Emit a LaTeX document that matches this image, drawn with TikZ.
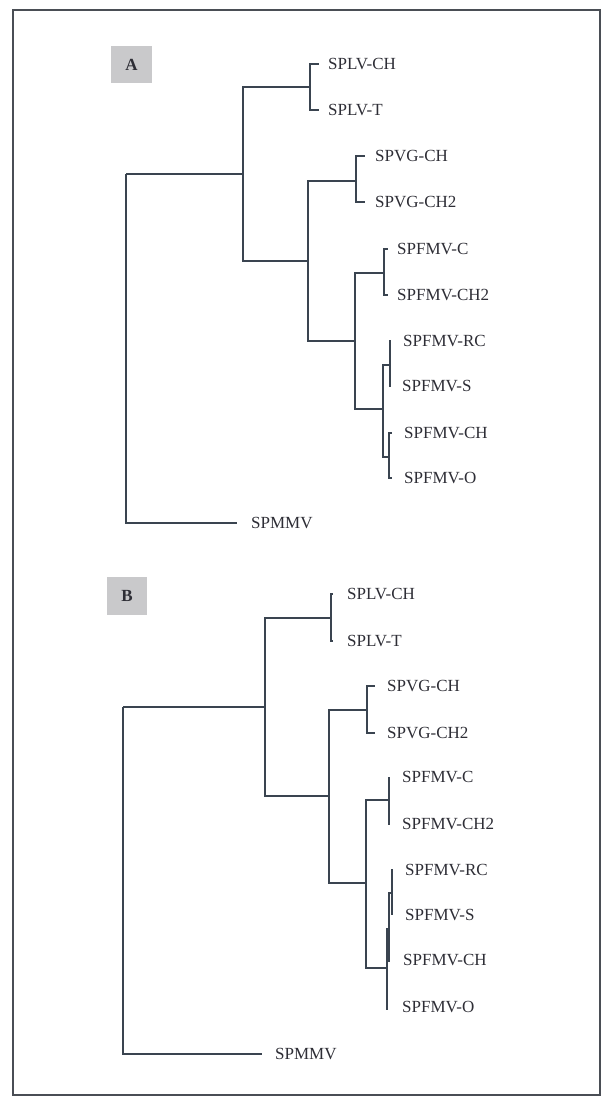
\documentclass[tikz,border=0pt]{standalone}
\usepackage{fontspec}
\setmainfont{Liberation Serif}
\begin{document}
\begin{tikzpicture}[x=1pt,y=-1pt,
  branch/.style={draw=treecol,line width=1.3pt},
  leaf/.style={anchor=west,inner sep=0pt,text=textcol,font=\fontsize{17}{18}\selectfont},
  panel/.style={fill=boxcol,draw=none,inner sep=0pt,font=\fontsize{17}{18}\selectfont\bfseries,text=textcol},
  frame/.style={draw=framecol,line width=1.6pt}]
\definecolor{treecol}{HTML}{3A4450}
\definecolor{textcol}{HTML}{2E2E36}
\definecolor{boxcol}{HTML}{C9C9CB}
\definecolor{framecol}{HTML}{4A4E55}
\path[use as bounding box] (0,0) rectangle (603,1097);
\fill[white] (0,0) rectangle (603,1097);
\draw[frame] (13,10) rectangle (600,1095);

% ---------------- Panel A ----------------
\node[panel,minimum width=41pt,minimum height=37pt] (boxA) at (131.5,64.5) {A};

\coordinate (ta1) at (319,64);  \coordinate (ta2) at (319,110);
\coordinate (ta3) at (365,156); \coordinate (ta4) at (365,202);
\coordinate (ta5) at (388,249); \coordinate (ta6) at (388,295);
\coordinate (ta7) at (391,341); \coordinate (ta8) at (391,386);
\coordinate (ta9) at (392,433); \coordinate (ta10) at (392,478);
\coordinate (ta11) at (237,523);

\node[leaf] (la1) at (328,64) {SPLV-CH};
\node[leaf] (la2) at (328,110) {SPLV-T};
\node[leaf] (la3) at (375,156) {SPVG-CH};
\node[leaf] (la4) at (375,202) {SPVG-CH2};
\node[leaf] (la5) at (397,249) {SPFMV-C};
\node[leaf] (la6) at (397,295) {SPFMV-CH2};
\node[leaf] (la7) at (403,341) {SPFMV-RC};
\node[leaf] (la8) at (402,386) {SPFMV-S};
\node[leaf] (la9) at (404,433) {SPFMV-CH};
\node[leaf] (la10) at (404,478) {SPFMV-O};
\node[leaf] (la11) at (251,523) {SPMMV};

\coordinate (nA1) at (310,87);
\coordinate (nA2) at (356,181);
\coordinate (nA3) at (384,273);
\coordinate (nA4) at (390,365);
\coordinate (nA5) at (389,457);
\coordinate (nA6) at (383,409);
\coordinate (nA7) at (355,341);
\coordinate (nA8) at (308,261);
\coordinate (nA9) at (243,174);
\coordinate (rA) at (126,174);

\draw[branch] (nA1) |- (ta1);  \draw[branch] (nA1) |- (ta2);
\draw[branch] (nA2) |- (ta3);  \draw[branch] (nA2) |- (ta4);
\draw[branch] (nA3) |- (ta5);  \draw[branch] (nA3) |- (ta6);
\draw[branch] (nA4) |- (ta7);  \draw[branch] (nA4) |- (ta8);
\draw[branch] (nA5) |- (ta9);  \draw[branch] (nA5) |- (ta10);
\draw[branch] (nA6) |- (nA4);  \draw[branch] (nA6) |- (nA5);
\draw[branch] (nA7) |- (nA3);  \draw[branch] (nA7) |- (nA6);
\draw[branch] (nA8) |- (nA2);  \draw[branch] (nA8) |- (nA7);
\draw[branch] (nA9) |- (nA1);  \draw[branch] (nA9) |- (nA8);
\draw[branch] (rA) |- (nA9);   \draw[branch] (rA) |- (ta11);

% ---------------- Panel B ----------------
\node[panel,minimum width=40pt,minimum height=38pt] (boxB) at (127,596) {B};

\coordinate (tb1) at (333,594);  \coordinate (tb2) at (333,641);
\coordinate (tb3) at (375,686);  \coordinate (tb4) at (375,733);
\coordinate (tb5) at (389,777);  \coordinate (tb6) at (389,825);
\coordinate (tb7) at (392,869);  \coordinate (tb8) at (392,915);
\coordinate (tb9) at (389,962);  \coordinate (tb10) at (387,1010);
\coordinate (tb11) at (262,1054);

\node[leaf] (lb1) at (347,594) {SPLV-CH};
\node[leaf] (lb2) at (347,641) {SPLV-T};
\node[leaf] (lb3) at (387,686) {SPVG-CH};
\node[leaf] (lb4) at (387,733) {SPVG-CH2};
\node[leaf] (lb5) at (402,777) {SPFMV-C};
\node[leaf] (lb6) at (402,824) {SPFMV-CH2};
\node[leaf] (lb7) at (405,870) {SPFMV-RC};
\node[leaf] (lb8) at (405,915) {SPFMV-S};
\node[leaf] (lb9) at (403,960) {SPFMV-CH};
\node[leaf] (lb10) at (402,1007) {SPFMV-O};
\node[leaf] (lb11) at (275,1054) {SPMMV};

\coordinate (nB1) at (331,618);
\coordinate (nB2) at (367,710);
\coordinate (nB3) at (389,800);
\coordinate (nB7) at (392,893);
\coordinate (nB6) at (389,929);
\coordinate (nB5) at (387,968);
\coordinate (nB4) at (366,883);
\coordinate (nB8) at (329,796);
\coordinate (nB9) at (265,707);
\coordinate (rB) at (123,707);

\draw[branch] (nB1) |- (tb1);  \draw[branch] (nB1) |- (tb2);
\draw[branch] (nB2) |- (tb3);  \draw[branch] (nB2) |- (tb4);
\draw[branch] (nB3) |- (tb5);  \draw[branch] (nB3) |- (tb6);
\draw[branch] (nB7) |- (tb7);  \draw[branch] (nB7) |- (tb8);
\draw[branch] (nB6) |- (nB7);  \draw[branch] (nB6) |- (tb9);
\draw[branch] (nB5) |- (nB6);  \draw[branch] (nB5) |- (tb10);
\draw[branch] (nB4) |- (nB3);  \draw[branch] (nB4) |- (nB5);
\draw[branch] (nB8) |- (nB2);  \draw[branch] (nB8) |- (nB4);
\draw[branch] (nB9) |- (nB1);  \draw[branch] (nB9) |- (nB8);
\draw[branch] (rB) |- (nB9);   \draw[branch] (rB) |- (tb11);
\end{tikzpicture}
\end{document}
